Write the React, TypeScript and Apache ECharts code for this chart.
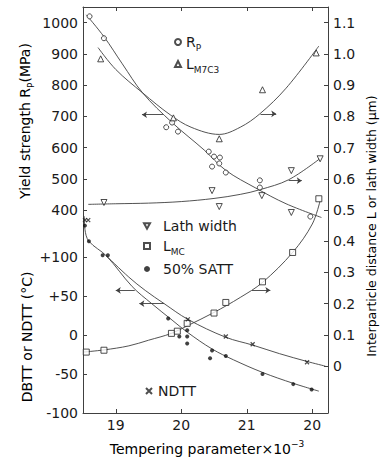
import React, { useEffect, useRef } from 'react';
import * as echarts from 'echarts';

// ---- tick values / labels ----
const xTickValues = [19, 20, 21, 22];
const xTickLabels = ['19', '20', '21', '20'];
const strengthTicks = [400, 500, 600, 700, 800, 900, 1000];
const tempTicks = [-100, -50, 0, 50, 100];
const widthTicks = [0, 0.1, 0.2, 0.3, 0.4, 0.5, 0.6, 0.7, 0.8, 0.9, 1.0, 1.1];

// ---- yield strength Rp (MPa) ----
const rpCurve = [[18.55, 1025], [18.82, 955], [19.1, 868], [19.41, 775], [19.86, 680], [20.35, 592], [20.68, 527], [21.14, 470], [21.6, 420], [22.14, 376]];
const rpPoints = [[18.6, 1020], [18.82, 950], [19.77, 665], [19.86, 680], [19.95, 651], [20.42, 587], [20.5, 571], [20.59, 568], [20.58, 549], [20.47, 539], [20.68, 520], [21.2, 495], [21.2, 472], [21.97, 379]];
const rpArrow = [[19.72, 705], [19.4, 705]];

// ---- L M7C3 (um) ----
const m7c3Curve = [[18.73, 1.02], [19.0, 0.95], [19.41, 0.875], [19.83, 0.805], [20.15, 0.765], [20.58, 0.742], [20.9, 0.765], [21.2, 0.808], [21.6, 0.89], [22.1, 1.025]];
const m7c3Points = [[18.77, 0.984], [19.88, 0.795], [20.58, 0.728], [21.24, 0.885], [22.06, 1.003]];
const m7c3Arrow = [[21.21, 0.808], [21.45, 0.808]];

// ---- lath width (um) ----
const lathCurve = [[18.58, 0.518], [19.0, 0.52], [19.5, 0.522], [20.0, 0.527], [20.5, 0.537], [20.9, 0.55], [21.2, 0.565], [21.64, 0.597], [22.12, 0.665]];
const lathPoints = [[18.82, 0.524], [20.47, 0.562], [20.58, 0.511], [21.23, 0.546], [21.68, 0.626], [21.68, 0.492], [22.12, 0.664]];
const lathArrow = [[21.64, 0.594], [21.84, 0.594]];

// ---- L MC (um) ----
const lmcCurve = [[18.5, 0.045], [18.82, 0.052], [19.2, 0.065], [19.5, 0.083], [19.85, 0.105], [20.1, 0.13], [20.5, 0.172], [20.9, 0.22], [21.24, 0.268], [21.7, 0.364], [22.0, 0.455], [22.12, 0.53]];
const lmcPoints = [[18.55, 0.045], [18.82, 0.051], [19.85, 0.105], [19.94, 0.112], [20.09, 0.137], [20.5, 0.17], [20.68, 0.204], [21.24, 0.27], [21.7, 0.364], [22.1, 0.536]];
const lmcArrow = [[21.08, 0.243], [21.36, 0.243]];

// ---- 50% SATT (°C) ----
const sattCurve = [[18.52, 152], [18.53, 135], [18.59, 120], [18.86, 101], [19.25, 62], [19.55, 40], [19.86, 19], [20.1, 3], [20.47, -18], [20.8, -32], [21.24, -48], [21.71, -62], [22.1, -72]];
const sattPoints = [[18.53, 140], [18.59, 120], [18.8, 102], [18.88, 102], [19.8, 21], [19.97, -2], [20.09, 6], [20.09, -2], [20.09, -11], [20.47, -20], [20.44, -30], [20.68, -27], [21.24, -50], [21.71, -63], [21.99, -70]];
const sattArrow = [[19.29, 57], [19.0, 57]];

// ---- NDTT (°C) ----
const ndttCurve = [[18.86, 101], [19.2, 74], [19.45, 57], [19.74, 40], [20.1, 20], [20.68, -3], [21.09, -13], [21.5, -24], [21.92, -34], [22.2, -40]];
const ndttPoints = [[18.53, 147], [18.58, 147], [20.1, 20], [20.68, -2], [21.09, -12], [21.92, -35]];
const ndttArrow = [[19.74, 40], [19.36, 40]];

const FONT = "'DejaVu Sans', sans-serif";
const INK = '#1a1a1a';
const LINE = '#404040';

const rich = {
  g: { width: 8, fontSize: 14, lineHeight: 20 },
  a: { fontSize: 14, fontFamily: FONT, color: INK, lineHeight: 20 },
  s: { fontSize: 9, fontFamily: FONT, color: INK, lineHeight: 12, verticalAlign: 'bottom' as const },
  ss: { fontSize: 9, fontFamily: FONT, color: INK, lineHeight: 6, verticalAlign: 'bottom' as const },
  sup: { fontSize: 9, fontFamily: FONT, color: INK, lineHeight: 10, verticalAlign: 'top' as const },
};

const legendText: Record<string, string> = {
  Rp: '{a|R}{s|P}',
  LM7C3: '{a|L}{s|M}{ss|7}{s|C}{ss|3}',
  'Lath width': '{g| }{a|Lath width}',
  LMC: '{g| }{a|L}{s|MC}',
  '50% SATT': '{g| }{a|50% SATT}',
  NDTT: '{a|NDTT}',
};

function curve(data: number[][], yAxisIndex: number, arrow?: number[][]) {
  return {
    type: 'line',
    data,
    yAxisIndex,
    smooth: 0.35,
    showSymbol: false,
    symbol: 'none',
    silent: true,
    z: 2,
    lineStyle: { color: LINE, width: 0.9 },
    markLine: arrow
      ? {
          silent: true,
          symbol: ['none', 'arrow'],
          symbolSize: 5,
          label: { show: false },
          itemStyle: { color: LINE },
          lineStyle: { color: LINE, width: 0.9, type: 'solid' },
          data: [[{ coord: arrow[0] }, { coord: arrow[1] }]],
        }
      : undefined,
  };
}

function points(name: string, data: number[][], yAxisIndex: number, symbol: string, size: number, fill: string, border = 1) {
  return {
    type: 'scatter',
    name,
    data,
    yAxisIndex,
    symbol,
    symbolSize: size,
    silent: true,
    z: 3,
    itemStyle: { color: fill, borderColor: '#222', borderWidth: border },
  };
}

function legend(names: string[], left: number, top: number, itemWidth: number, itemGap: number) {
  return {
    data: names,
    left,
    top,
    orient: 'vertical',
    itemWidth,
    itemHeight: 6,
    itemGap,
    selectedMode: false,
    padding: 0,
    formatter: (n: string) => legendText[n],
    textStyle: { fontSize: 14, fontFamily: FONT, color: INK, rich },
  };
}

const axisLabelBase = { fontSize: 14, fontFamily: FONT, color: INK };

const option = {
  animation: false,
  backgroundColor: '#ffffff',
  grid: { left: 83, right: 52, top: 7, bottom: 52 },
  legend: [
    legend(['Rp', 'LM7C3'], 174, 35, 6, 5),
    legend(['Lath width', 'LMC', '50% SATT'], 143, 219, 6, 6),
    legend(['NDTT'], 145, 384, 8, 5),
  ],
  xAxis: [
    {
      type: 'value',
      position: 'bottom',
      min: 18.5,
      max: 22.24,
      axisLine: { show: true, onZero: false, lineStyle: { color: LINE, width: 1 } },
      axisTick: { show: true, inside: true, length: 4, customValues: xTickValues, lineStyle: { color: LINE } },
      axisLabel: {
        ...axisLabelBase,
        margin: 5,
        customValues: xTickValues,
        formatter: (v: number) => xTickLabels[xTickValues.indexOf(Math.round(v))] ?? '',
      },
      splitLine: { show: false },
    },
    {
      type: 'value',
      position: 'top',
      min: 18.5,
      max: 22.24,
      axisLine: { show: true, onZero: false, lineStyle: { color: LINE, width: 1 } },
      axisTick: { show: true, inside: true, length: 4, customValues: xTickValues, lineStyle: { color: LINE } },
      axisLabel: { show: false },
      splitLine: { show: false },
    },
  ],
  yAxis: [
    {
      type: 'value',
      position: 'left',
      min: -250,
      max: 1050,
      axisLine: { show: true, onZero: false, lineStyle: { color: LINE, width: 1 } },
      axisTick: { show: true, inside: true, length: 4, customValues: strengthTicks, lineStyle: { color: LINE } },
      axisLabel: { ...axisLabelBase, margin: 5, customValues: strengthTicks, formatter: (v: number) => String(v) },
      splitLine: { show: false },
    },
    {
      type: 'value',
      position: 'left',
      min: -100,
      max: 420,
      axisLine: { show: false, onZero: false },
      axisTick: { show: true, inside: true, length: 4, customValues: tempTicks, lineStyle: { color: LINE } },
      axisLabel: {
        ...axisLabelBase,
        margin: 5,
        customValues: tempTicks,
        showMinLabel: true,
        formatter: (v: number) => (v > 0 ? '+' + v : String(v)),
      },
      splitLine: { show: false },
    },
    {
      type: 'value',
      position: 'right',
      min: -0.15,
      max: 1.15,
      axisLine: { show: true, onZero: false, lineStyle: { color: LINE, width: 1 } },
      axisTick: { show: true, inside: true, length: 4, customValues: widthTicks, lineStyle: { color: LINE } },
      axisLabel: {
        ...axisLabelBase,
        margin: 5,
        customValues: widthTicks,
        formatter: (v: number) => (Math.abs(v) < 1e-9 ? '0' : v.toFixed(1)),
      },
      splitLine: { show: false },
    },
  ],
  graphic: [
    {
      type: 'text',
      x: 25,
      y: 121,
      rotation: Math.PI / 2,
      style: {
        text: '{a|Yield strength R}{s|P}{a|(MPa)}',
        rich,
        align: 'center',
        verticalAlign: 'middle',
        textAlign: 'center',
        textVerticalAlign: 'middle',
      },
    },
    {
      type: 'text',
      x: 27,
      y: 337,
      rotation: Math.PI / 2,
      style: {
        text: '{a|DBTT or NDTT (°C)}',
        rich,
        align: 'center',
        verticalAlign: 'middle',
        textAlign: 'center',
        textVerticalAlign: 'middle',
      },
    },
    {
      type: 'text',
      x: 371,
      y: 226,
      rotation: Math.PI / 2,
      style: {
        text: '{a|Interparticle distance L or lath width (μm)}',
        rich: { ...rich, a: { ...rich.a, fontSize: 12.5 } },
        align: 'center',
        verticalAlign: 'middle',
        textAlign: 'center',
        textVerticalAlign: 'middle',
      },
    },
    {
      type: 'text',
      x: 207,
      y: 449,
      style: {
        text: '{a|Tempering parameter×10}{sup|−3}',
        rich,
        align: 'center',
        verticalAlign: 'middle',
        textAlign: 'center',
        textVerticalAlign: 'middle',
      },
    },
  ],
  series: [
    curve(rpCurve, 0, rpArrow),
    points('Rp', rpPoints, 0, 'circle', 5, '#ffffff'),
    curve(m7c3Curve, 2, m7c3Arrow),
    points('LM7C3', m7c3Points, 2, 'triangle', 6, '#ffffff'),
    curve(lathCurve, 2, lathArrow),
    points('Lath width', lathPoints, 2, 'path://M0,0L10,0L5,9Z', 6, '#ffffff'),
    curve(lmcCurve, 2, lmcArrow),
    points('LMC', lmcPoints, 2, 'rect', 6, '#ffffff'),
    curve(sattCurve, 1, sattArrow),
    points('50% SATT', sattPoints, 1, 'circle', 4, '#111111', 0),
    curve(ndttCurve, 1, ndttArrow),
    points('NDTT', ndttPoints, 1, 'path://M0,0L10,10M10,0L0,10', 4, 'transparent', 1.2),
  ],
};

export default function App() {
  const ref = useRef<HTMLDivElement>(null);
  useEffect(() => {
    if (!ref.current) return;
    const chart = echarts.init(ref.current, null, { renderer: 'svg' });
    chart.setOption(option as any);
    return () => chart.dispose();
  }, []);
  return (
    <div
      ref={ref}
      style={{ position: 'absolute', left: 0, top: 0, width: 380, height: 465, background: '#fff' }}
    />
  );
}
